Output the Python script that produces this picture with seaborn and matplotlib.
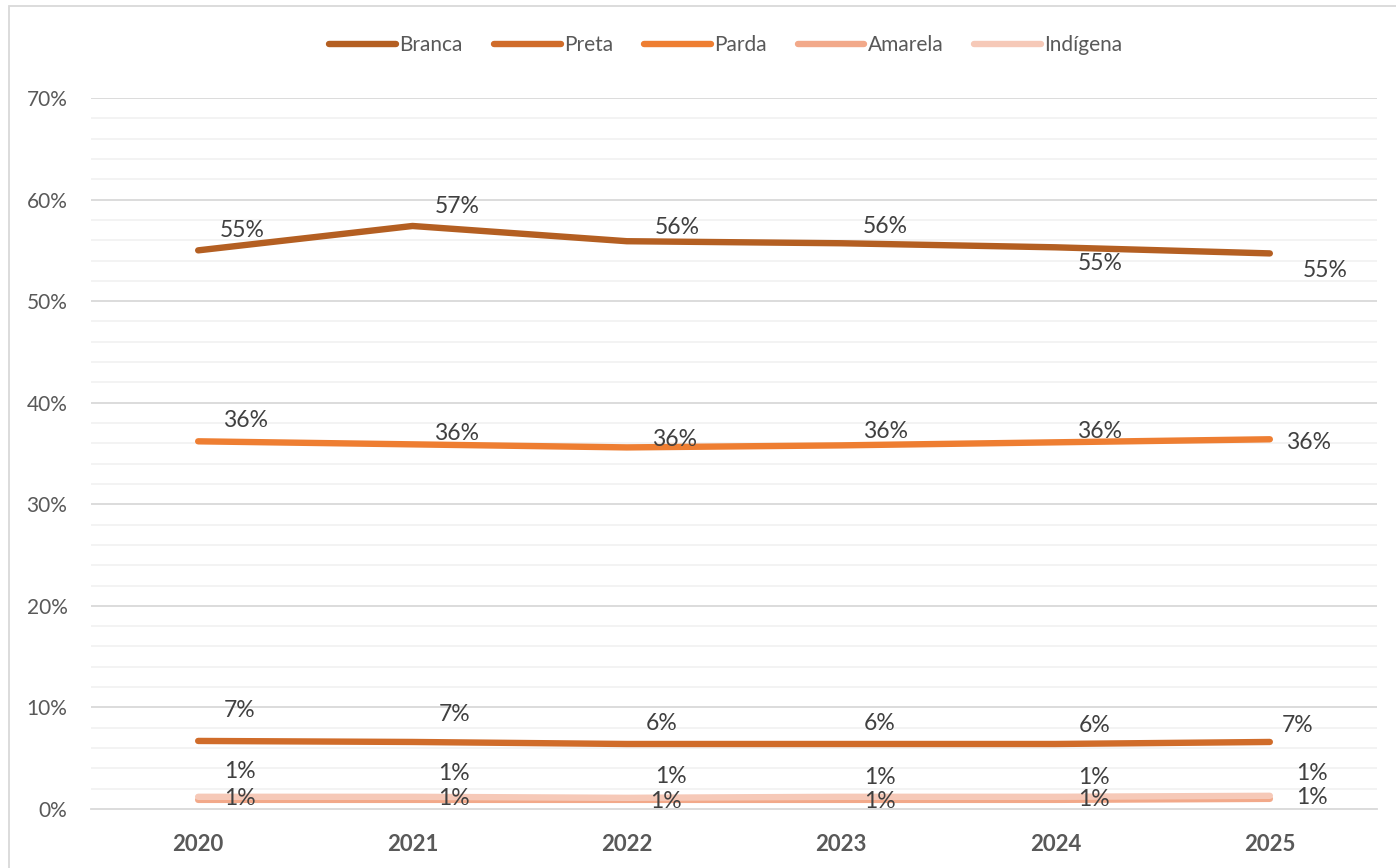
import pandas as pd
import matplotlib.pyplot as plt
import seaborn as sns
from matplotlib.lines import Line2D
from matplotlib.patches import Rectangle

# data (fractions)
years = ["2020", "2021", "2022", "2023", "2024", "2025"]
branca = [0.550, 0.574, 0.559, 0.557, 0.553, 0.547]
preta = [0.067, 0.066, 0.064, 0.064, 0.064, 0.066]
parda = [0.362, 0.359, 0.356, 0.358, 0.361, 0.364]
amarela = [0.009, 0.009, 0.009, 0.009, 0.009, 0.010]
indigena = [0.012, 0.012, 0.011, 0.012, 0.012, 0.013]

groups = ["Branca", "Preta", "Parda", "Amarela", "Indígena"]
series = [branca, preta, parda, amarela, indigena]
colors = ["#B45F22", "#D06C2A", "#EE7E32", "#F2A98A", "#F6C9B8"]

# label offsets in points (dx, dy), per series per year
label_offsets = {
    "Branca": [(32, 14), (32, 14), (36, 10), (32, 12), (32, -12), (40, -12)],
    "Preta": [(30, 22), (30, 20), (25, 15), (28, 15), (28, 13), (20, 12)],
    "Parda": [(34, 15), (32, 8), (34, 6), (32, 10), (32, 8), (28, -2)],
    "Amarela": [(30, 1), (30, 1), (28, -1), (28, -1), (28, 0), (30, 1)],
    "Indígena": [(30, 18), (30, 17), (32, 15), (28, 14), (28, 14), (30, 16)],
}

rows = []
for g, vals in zip(groups, series):
    for i, (y, v) in enumerate(zip(years, vals)):
        rows.append({"pos": i, "year": y, "group": g, "value": v})
df = pd.DataFrame(rows)

sns.set_style("white")
plt.rcParams["font.family"] = ["Lato", "DejaVu Sans"]

fig = plt.figure(figsize=(13.96, 8.68), dpi=100)
ax = fig.add_axes([91 / 1396, 1 - 809 / 868, (1377 - 91) / 1396, (809 - 98) / 868])

# minor and major gridlines
for k in range(1, 35):
    if k % 5 == 0:
        continue
    ax.axhline(k * 0.02, color="#F2F2F2", lw=1.3, zorder=0)
for k in range(1, 8):
    ax.axhline(k * 0.1, color="#D9D9D9", lw=1.3, zorder=0)

sns.lineplot(data=df, x="pos", y="value", hue="group", palette=colors,
             hue_order=groups, linewidth=4.6, ax=ax, legend=False,
             solid_capstyle="round", zorder=3)

for g, vals in zip(groups, series):
    for i, v in enumerate(vals):
        dx, dy = label_offsets[g][i]
        ax.annotate(f"{v * 100:.0f}%", (i, v), xytext=(dx, dy),
                    textcoords="offset points", ha="center", va="center",
                    fontsize=16.5, color="#404040", zorder=5)

ax.set_xlim(-0.5, 5.5)
ax.set_ylim(0, 0.70)
ax.set_xticks(range(len(years)))
ax.set_xticklabels(years, fontsize=16, fontweight="bold", color="#595959")
ax.set_xticks([i - 0.5 for i in range(len(years) + 1)], minor=True)
ax.tick_params(axis="x", which="major", length=0, pad=18)
ax.tick_params(axis="x", which="minor", length=10, width=1.3, color="#D9D9D9", direction="out")
ax.set_yticks([k * 0.1 for k in range(8)])
ax.set_yticklabels([f"{k * 10}%" for k in range(8)], fontsize=15, color="#595959")
ax.tick_params(axis="y", length=0, pad=17)
ax.set_xlabel("")
ax.set_ylabel("")
for s in ["top", "right", "left"]:
    ax.spines[s].set_visible(False)
ax.spines["bottom"].set_color("#D9D9D9")
ax.spines["bottom"].set_linewidth(1.3)

handles = [Line2D([0], [0], color=c, lw=4.6, solid_capstyle="round") for c in colors]
fig.legend(handles, groups, loc="center", bbox_to_anchor=(0.52, 1 - 45 / 868), ncol=5,
           frameon=False, fontsize=15, handlelength=3.2, handletextpad=0.15,
           columnspacing=1.5, labelcolor="#595959")

fig.patches.append(Rectangle((9 / 1396, -0.02), 1.2, 1 - 6 / 868 + 0.02,
                             transform=fig.transFigure, fill=False,
                             edgecolor="#D9D9D9", lw=1.3, zorder=-1))

fig.savefig("out.png", dpi=100)
